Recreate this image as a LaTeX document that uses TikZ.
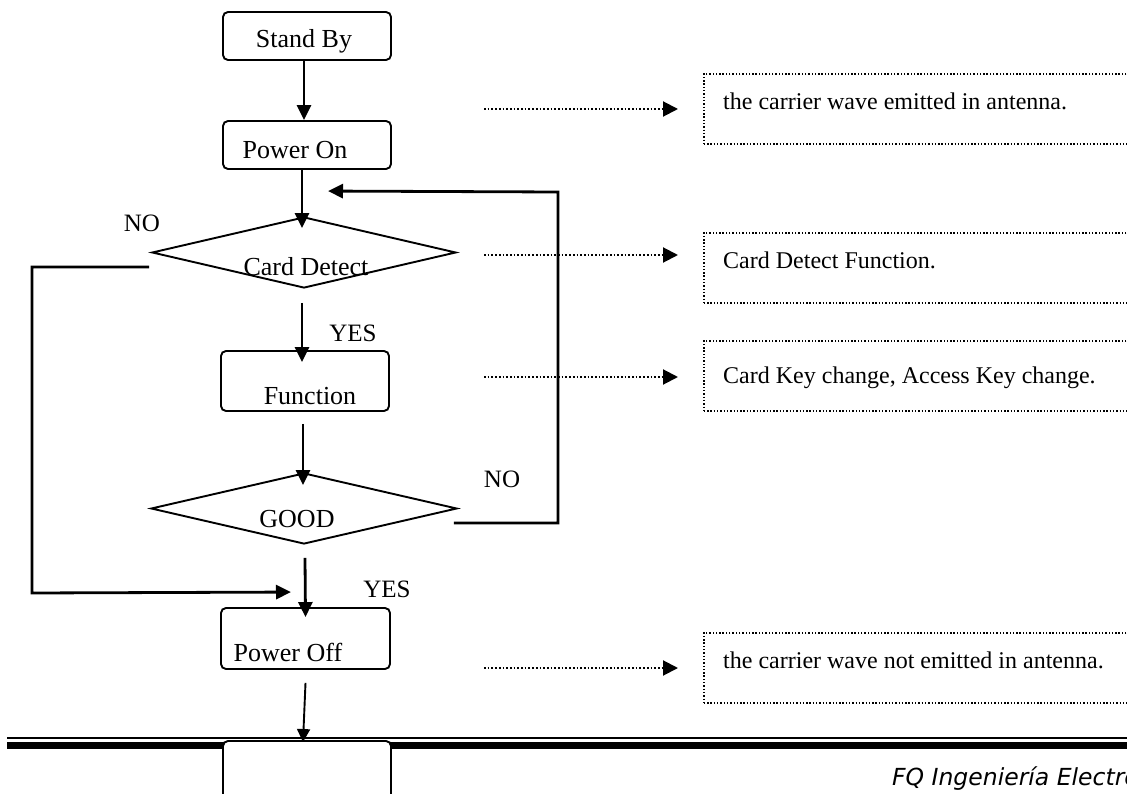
\documentclass[tikz,border=0pt]{standalone}
\usepackage{fontspec}
\setmainfont{Liberation Serif}
\newfontfamily\footfont{DejaVu Sans}
\usetikzlibrary{arrows.meta,shapes.geometric,calc}
\begin{document}
\begin{tikzpicture}[x=1pt,y=-1pt,
 box/.style={draw, line width=1.9pt, rounded corners=5pt, inner sep=0pt},
 dia/.style={draw, diamond, line width=1.9pt, inner sep=0pt},
 txt/.style={font=\fontsize{26}{30}\selectfont, inner sep=0pt, anchor=base},
 lbl/.style={font=\fontsize{25}{30}\selectfont, inner sep=0pt},
 note/.style={draw, line width=1.6pt, dash pattern=on 1.4pt off 1.9pt, inner sep=0pt, anchor=north west, minimum width=437pt, minimum height=70pt},
 notetxt/.style={font=\fontsize{24}{28}\selectfont, inner sep=0pt, anchor=base west},
 conn/.style={line width=2.8pt, -{Triangle[length=15pt,width=14pt]}},
 dotarr/.style={line width=2pt, dash pattern=on 1.7pt off 2pt, -{Triangle[length=15pt,width=15pt]}, shorten >=25pt},
]
\useasboundingbox (0,0) rectangle (1127,794);
\clip (0,0) rectangle (1127,794);
\fill[white] (0,0) rectangle (1127,794);

% flow boxes
\node[box, minimum width=168pt, minimum height=48pt] (standby) at (307,36) {};
\node[txt] (standbyT) at (304,48) {Stand By};
\node[box, minimum width=168pt, minimum height=48pt] (poweron) at (307,145) {};
\node[txt] (poweronT) at (295,159) {Power On};
\node[dia, minimum width=304pt, minimum height=71pt] (cd) at (304,252.5) {};
\node[txt] (cdT) at (306,276) {Card Detect};
\node[box, minimum width=168pt, minimum height=60pt] (function) at (305,381) {};
\node[txt] (functionT) at (310,404) {Function};
\node[dia, minimum width=306pt, minimum height=71pt] (good) at (304,508.5) {};
\node[txt] (goodT) at (297,527) {GOOD};
\node[box, minimum width=169pt, minimum height=61pt] (poweroff) at (305.5,638.5) {};
\node[txt] (poweroffT) at (288,661) {Power Off};

% labels
\node[lbl] (no1) at (142,223) {NO};
\node[lbl] (yes1) at (353,333) {YES};
\node[lbl] (no2) at (502,479) {NO};
\node[lbl] (yes2) at (387,589) {YES};

% main connectors
\draw[conn] ([xshift=-3pt]standby.south) -- ([xshift=-3pt]poweron.north);
\draw[conn] ([xshift=-5pt]poweron.south) -- ([xshift=-2pt,yshift=-12pt]cd.north);
\draw[conn] ([xshift=-2pt,yshift=-14pt]cd.south) -- ([xshift=-3pt,yshift=-12pt]function.north);
\draw[conn] ([xshift=-2pt,yshift=-12pt]function.south) -- ([xshift=-1pt,yshift=-13pt]good.north);
\draw[conn] ([xshift=1pt,yshift=-13pt]good.south) -- ([yshift=-10pt]poweroff.north);

% NO branches
\coordinate (mL) at (32,593);
\draw[conn] ([xshift=-2pt,yshift=-14.5pt]cd.west) -| (mL) -- ([xshift=-14.5pt,yshift=15pt]poweroff.north);
\coordinate (mR) at (558,192);
\draw[conn] ([xshift=-4pt,yshift=-14.5pt]good.east) -| (mR) -- ([xshift=24pt,yshift=25pt]cd.north);

% notes
\node[note] (n1) at (703,73) {};
\node[notetxt] (n1T) at (723,110) {the carrier wave emitted in antenna.};
\node[note] (n2) at (703,232) {};
\node[notetxt] (n2T) at (723,269) {Card Detect Function.};
\node[note] (n3) at (703,340) {};
\node[notetxt] (n3T) at (723,383) {Card Key change, Access Key change.};
\node[note] (n4) at (703,632) {};
\node[notetxt] (n4T) at (723,668) {the carrier wave not emitted in antenna.};

\coordinate (a1) at (484,109);
\coordinate (a2) at (484,255);
\coordinate (a3) at (484,377);
\coordinate (a4) at (484,668);
\draw[dotarr] (a1) -- (a1 -| n1.west);
\draw[dotarr] (a2) -- (a2 -| n2.west);
\draw[dotarr] (a3) -- (a3 -| n3.west);
\draw[dotarr] (a4) -- (a4 -| n4.west);

% footer rules
\draw[line width=1.5pt] (7,738) -- (1140,738);
\draw[line width=7pt] (7,745.5) -- (1140,745.5);
\node[box, fill=white, minimum width=168pt, minimum height=100pt] (endbox) at (307,791) {};
\draw[line width=1.9pt, -{Triangle[length=13pt,width=13pt]}] ([yshift=-13pt]poweroff.south) -- ([xshift=-4pt,yshift=-2pt]endbox.north);

\node[font=\footfont\itshape\fontsize{23.5}{28}\selectfont, anchor=base west, inner sep=0pt] (foot) at (892,785) {FQ Ingeniería Electro};
\end{tikzpicture}
\end{document}
